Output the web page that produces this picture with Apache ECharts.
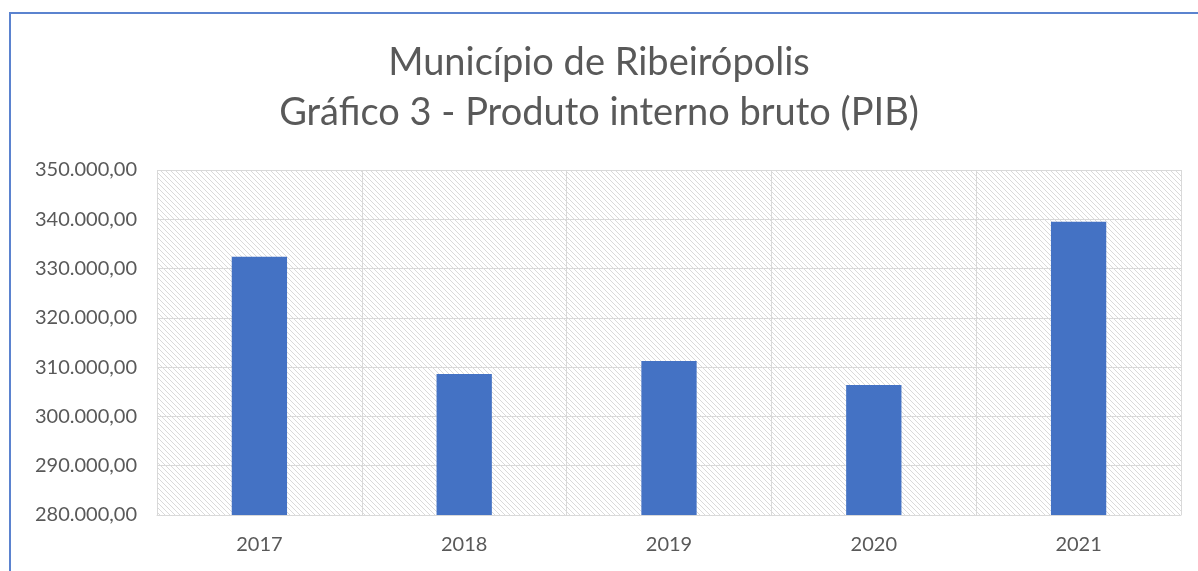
<!DOCTYPE html>
<html>
<head>
<meta charset="utf-8">
<script src="https://cdn.jsdelivr.net/npm/echarts@6/dist/echarts.min.js"></script>
<style>
  html, body { margin: 0; padding: 0; background: #fff; }
  #frame { position: absolute; left: 9px; top: 12px; width: 1189px; height: 559px;
    border-left: 2px solid #5b83cf; border-top: 2px solid #5b83cf; }
  #chart { position: absolute; left: 0; top: 0; width: 1198px; height: 571px; }
</style>
</head>
<body>
<div id="frame"></div>
<div id="chart"></div>
<script>
const years = ['2017', '2018', '2019', '2020', '2021']
const pib = [332400, 308600, 311250, 306400, 339500]
const yMin = 280000
const yMax = 350000
const yStep = 10000

function hatch() {
  const c = document.createElement('canvas')
  c.width = 5
  c.height = 5
  const ctx = c.getContext('2d')
  ctx.fillStyle = '#ffffff'
  ctx.fillRect(0, 0, 5, 5)
  ctx.strokeStyle = '#dadada'
  ctx.lineWidth = 1
  ctx.beginPath()
  ctx.moveTo(-1, -1); ctx.lineTo(6, 6)
  ctx.moveTo(-1, 4); ctx.lineTo(1, 6)
  ctx.moveTo(4, -1); ctx.lineTo(6, 1)
  ctx.stroke()
  return c
}

const fmt = v => v.toLocaleString('pt-BR', { minimumFractionDigits: 2, maximumFractionDigits: 2 })

const chart = echarts.init(document.getElementById('chart'))
chart.setOption({
  animation: false,
  textStyle: { fontFamily: 'Lato' },
  title: {
    text: 'Município de Ribeirópolis\nGráfico 3 - Produto interno bruto (PIB)',
    left: 'center',
    top: 33,
    textStyle: { fontFamily: 'Lato', fontWeight: 'normal', fontSize: 38, lineHeight: 50, color: '#595959' }
  },
  grid: {
    left: 157, right: 17, top: 170, bottom: 56,
    show: true,
    borderWidth: 0,
    backgroundColor: { image: hatch(), repeat: 'repeat' }
  },
  xAxis: {
    type: 'category',
    data: years,
    axisLine: { show: true, lineStyle: { color: '#d9d9d9' } },
    axisTick: { show: false },
    splitLine: { show: true, lineStyle: { color: '#d9d9d9', width: 1 } },
    axisLabel: { color: '#595959', fontSize: 20, margin: 20 }
  },
  yAxis: {
    type: 'value',
    min: yMin,
    max: yMax,
    interval: yStep,
    axisLine: { show: false },
    axisTick: { show: false },
    splitLine: { lineStyle: { color: '#d9d9d9', width: 1 } },
    axisLabel: { color: '#595959', fontSize: 20, margin: 20, formatter: fmt }
  },
  series: [{
    type: 'bar',
    data: pib,
    barWidth: '27%',
    itemStyle: { color: '#4472c4' }
  }]
})
</script>
</body>
</html>
